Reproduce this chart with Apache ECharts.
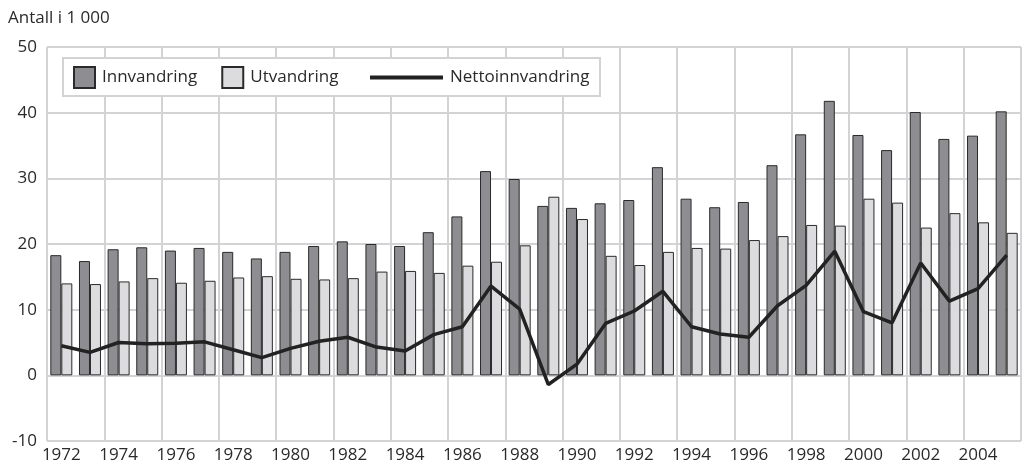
<!DOCTYPE html>
<html>
<head>
<meta charset="utf-8">
<script src="https://cdn.jsdelivr.net/npm/echarts@6/dist/echarts.min.js"></script>
<style>
  html, body { margin: 0; padding: 0; background: #fff; }
  #chart { width: 1025px; height: 467px; }
</style>
</head>
<body>
<div id="chart"></div>
<script>
const years = [
    '1972', '1973', '1974', '1975', '1976', '1977', '1978', '1979', '1980', '1981',
    '1982', '1983', '1984', '1985', '1986', '1987', '1988', '1989', '1990', '1991',
    '1992', '1993', '1994', '1995', '1996', '1997', '1998', '1999', '2000', '2001',
    '2002', '2003', '2004', '2005'
];
const innvandring = [
    18.3, 17.4, 19.2, 19.5, 19.0, 19.4, 18.8, 17.8, 18.8, 19.7,
    20.4, 20.0, 19.7, 21.8, 24.2, 31.1, 29.9, 25.8, 25.5, 26.2,
    26.7, 31.7, 26.9, 25.6, 26.4, 32.0, 36.7, 41.8, 36.6, 34.3,
    40.1, 36.0, 36.5, 40.2
];
const utvandring = [
    14.0, 13.9, 14.3, 14.8, 14.1, 14.4, 14.9, 15.1, 14.7, 14.6,
    14.8, 15.8, 15.9, 15.6, 16.7, 17.3, 19.8, 27.2, 23.8, 18.2,
    16.8, 18.8, 19.4, 19.3, 20.6, 21.2, 22.9, 22.8, 26.9, 26.3,
    22.5, 24.7, 23.3, 21.7
];
const netto = [
    4.5, 3.5, 5.0, 4.8, 4.9, 5.1, 3.9, 2.7, 4.1, 5.2,
    5.8, 4.3, 3.7, 6.2, 7.4, 13.6, 10.1, -1.4, 1.7, 7.9,
    9.8, 12.8, 7.4, 6.3, 5.8, 10.6, 13.7, 18.9, 9.7, 8.0,
    17.1, 11.3, 13.2, 18.3
];

const font = 'Open Sans, Noto Sans, sans-serif';
const gridColor = '#d3d3d5';
const textColor = '#2a2a2a';

const chart = echarts.init(document.getElementById('chart'));
chart.setOption({
    animation: false,
    textStyle: { fontFamily: font },
    title: {
        text: 'Antall i 1 000',
        left: 3,
        top: 5,
        textStyle: { fontFamily: font, fontSize: 17, fontWeight: 'normal', color: textColor }
    },
    grid: { left: 47, right: 4, top: 47, bottom: 26 },
    // white legend box drawn behind the two legends
    graphic: [{
        type: 'rect',
        left: 62,
        top: 57,
        shape: { width: 537, height: 38 },
        style: { fill: '#fff', stroke: gridColor, lineWidth: 2 },
        z: 3
    }],
    legend: [
        {
            data: [
                { name: 'Innvandring', icon: 'rect' },
                { name: 'Utvandring', icon: 'rect' }
            ],
            left: 68,
            top: 61,
            itemWidth: 21,
            itemHeight: 21,
            itemGap: 24,
            z: 5,
            textStyle: { fontFamily: font, fontSize: 17, color: textColor, padding: [0, 0, 0, 2] }
        },
        {
            data: [{ name: 'Nettoinnvandring', icon: 'rect', itemStyle: { color: '#222', borderWidth: 0 } }],
            left: 365,
            top: 64,
            itemWidth: 73,
            itemHeight: 4,
            z: 5,
            textStyle: { fontFamily: font, fontSize: 17, color: textColor, padding: [0, 0, 0, 2] }
        }
    ],
    xAxis: {
        type: 'category',
        data: years,
        boundaryGap: true,
        axisLine: { show: false },
        axisTick: { show: false },
        axisLabel: { interval: 1, fontSize: 17, color: textColor, margin: 6, fontFamily: font },
        splitLine: { show: true, interval: 1, lineStyle: { color: gridColor, width: 2 } }
    },
    yAxis: {
        type: 'value',
        min: -10,
        max: 50,
        interval: 10,
        axisLine: { show: false },
        axisTick: { show: false },
        axisLabel: { fontSize: 17, color: textColor, margin: 10, fontFamily: font },
        splitLine: { lineStyle: { color: gridColor, width: 2 } }
    },
    series: [
        {
            name: 'Innvandring',
            type: 'bar',
            data: innvandring,
            barWidth: 11,
            barGap: '0%',
            itemStyle: { color: '#8e8e92', borderColor: '#2a2a2a', borderWidth: 1 }
        },
        {
            name: 'Utvandring',
            type: 'bar',
            data: utvandring,
            barWidth: 11,
            barGap: '0%',
            itemStyle: { color: '#dcdcde', borderColor: '#2a2a2a', borderWidth: 1 }
        },
        {
            name: 'Nettoinnvandring',
            type: 'line',
            data: netto,
            symbol: 'none',
            z: 4,
            lineStyle: { color: '#222', width: 3.5 },
            itemStyle: { color: '#222' }
        }
    ]
});
</script>
</body>
</html>
